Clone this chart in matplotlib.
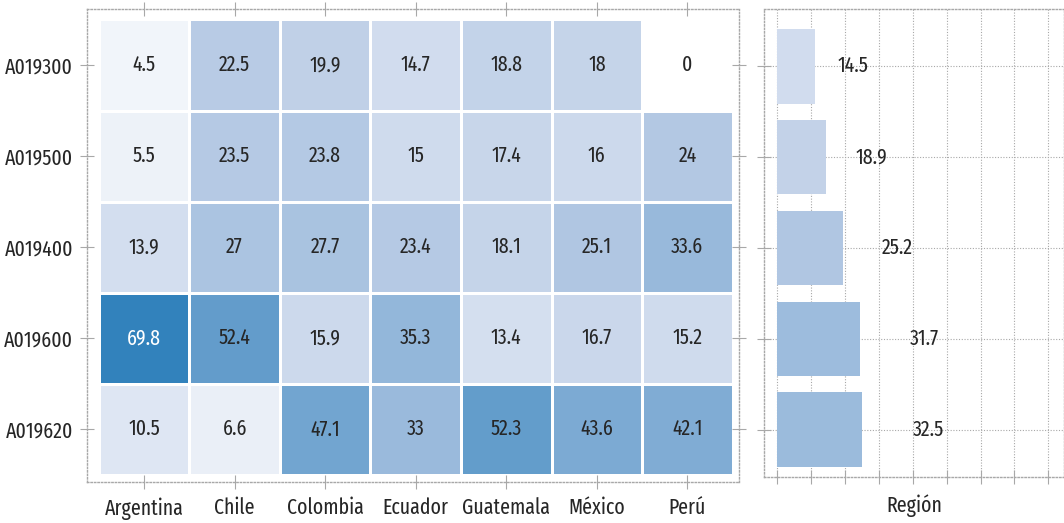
import numpy as np
import matplotlib
matplotlib.use('Agg')
import matplotlib.pyplot as plt
from matplotlib.colors import LinearSegmentedColormap
from matplotlib import font_manager

countries = ['Argentina', 'Chile', 'Colombia', 'Ecuador', 'Guatemala', 'México', 'Perú']
codes = ['A019300', 'A019500', 'A019400', 'A019600', 'A019620']

row_a019300 = [4.5, 22.5, 19.9, 14.7, 18.8, 18, 0]
row_a019500 = [5.5, 23.5, 23.8, 15, 17.4, 16, 24]
row_a019400 = [13.9, 27, 27.7, 23.4, 18.1, 25.1, 33.6]
row_a019600 = [69.8, 52.4, 15.9, 35.3, 13.4, 16.7, 15.2]
row_a019620 = [10.5, 6.6, 47.1, 33, 52.3, 43.6, 42.1]

region = [14.5, 18.9, 25.2, 31.7, 32.5]

# condensed humanist face, closest available to the original
names = {f.name for f in font_manager.fontManager.ttflist}
wanted = ['Fira Sans Extra Condensed', 'PT Sans Narrow', 'Fira Sans Condensed',
          'Asap Condensed', 'Roboto Condensed', 'Archivo Narrow']
font = next((f for f in wanted if f in names), 'DejaVu Sans')
fsize = 15.5 if font == 'Fira Sans Extra Condensed' else 14
plt.rcParams['font.family'] = [font, 'DejaVu Sans']
plt.rcParams['font.size'] = fsize

cmap = LinearSegmentedColormap.from_list(
    'wb', [(0.0, '#ffffff'), (0.3, '#bccde6'), (1.0, '#3282bc')])

grid = np.array([row_a019300, row_a019500, row_a019400, row_a019600, row_a019620])
vmax = grid.max()
dotted = (0, (1, 1.5))
gray = '#a8a8a8'
dark = '#262626'


def style_axes(ax):
    for s in ax.spines.values():
        s.set_linestyle(dotted)
        s.set_color(gray)
        s.set_linewidth(1)
    ax.tick_params(direction='inout', length=10, width=0.8, color=gray)


fig = plt.figure(figsize=(10.64, 5.23), dpi=100)
ax = fig.add_axes([0.0818, 0.0784, 0.6128, 0.9044])
ax2 = fig.add_axes([0.718, 0.088, 0.282, 0.8948])

# heatmap
nr, nc = grid.shape
ax.pcolormesh(np.arange(nc + 1) - 0.5, np.arange(nr + 1) - 0.5, grid,
              cmap=cmap, vmin=0, vmax=vmax, edgecolors='white', linewidth=2)
for i in range(nr):
    for j in range(nc):
        v = grid[i, j]
        r, g, b, _ = cmap(v / vmax)
        lum = 0.299 * r + 0.587 * g + 0.114 * b
        ax.text(j, i, f'{v:g}', ha='center', va='center',
                color='white' if lum < 0.55 else dark)

ax.set_xlim(-0.63, 6.57)
ax.set_ylim(4.58, -0.615)
ax.set_xticks(range(nc))
ax.set_xticklabels(countries)
ax.set_yticks(range(nr))
ax.set_yticklabels(codes)
style_axes(ax)
ax.tick_params(top=True, right=True, labeltop=False, labelright=False)
ax.tick_params(axis='x', pad=6)
ax.tick_params(axis='y', pad=5)
for lab in ax.get_xticklabels() + ax.get_yticklabels():
    lab.set_color(dark)

# regional bars
ypos = np.arange(len(region))
ax2.barh(ypos, region, height=0.82, color=[cmap(v / vmax) for v in region], zorder=2)
for y, v in zip(ypos, region):
    ax2.text(v * 1.6, y, f'{v:g}', ha='left', va='center', color=dark, zorder=3)
ax2.set_xlim(-5, 110)
ax2.set_ylim(4.52, -0.63)
ax2.set_xticks(np.arange(0, 110, 13))
ax2.set_yticks(ypos)
ax2.set_xticklabels([])
ax2.set_yticklabels([])
ax2.grid(True, linestyle=dotted, color=gray, linewidth=0.8, zorder=0)
ax2.set_axisbelow(True)
style_axes(ax2)
ax2.set_xlabel('Región', color=dark, labelpad=4)

fig.savefig('out.png', dpi=100)
